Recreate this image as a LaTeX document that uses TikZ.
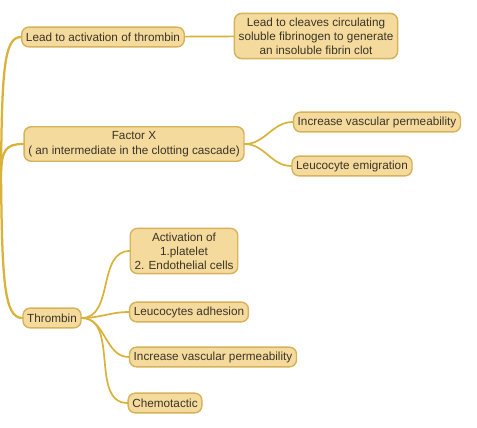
\documentclass[tikz,border=0pt]{standalone}
\usepackage{fontspec}
\setmainfont{Liberation Sans}
\definecolor{boxfill}{HTML}{F4DA9C}
\definecolor{boxline}{HTML}{D6B35A}
\definecolor{twig}{HTML}{D9B23A}
\definecolor{ink}{HTML}{3B3426}
\tikzset{
  topic/.style={draw=boxline, fill=boxfill, line width=1pt, rounded corners=5pt, text=ink,
    font=\fontsize{8.35}{10}\selectfont, align=center, inner xsep=3pt, inner ysep=3pt, minimum height=14pt},
  branch/.style={draw=twig, line width=1.2pt, line cap=round},
}
\begin{document}
\begin{tikzpicture}[x=0.025cm, y=-0.025cm]
\useasboundingbox[fill=white] (0,0) rectangle (477,427);
\clip (0,0) rectangle (477,427);
\coordinate (root) at (1,172);
\node[topic] (act) at (103,37) {Lead to activation of thrombin};
\node[topic] (clot) at (316,36) {Lead to cleaves circulating\\soluble fibrinogen to generate\\an insoluble fibrin clot};
\node[topic, font=\fontsize{8.35}{11}\selectfont] (fx) at (134,144) {Factor X\\( an intermediate in the clotting cascade)};
\node[topic] (fxperm) at (377,122) {Increase vascular permeability};
\node[topic] (fxemig) at (352,166) {Leucocyte emigration};
\node[topic] (thr) at (52,318) {Thrombin};
\node[topic] (thact) at (184,251) {Activation of\\1.platelet\\2. Endothelial cells};
\node[topic] (thadh) at (189,312) {Leucocytes adhesion};
\node[topic] (thperm) at (213,357) {Increase vascular permeability};
\node[topic] (thchem) at (165,403) {Chemotactic};
\draw[branch, line width=1.6pt] (root) .. controls (2,70) and (4,37) .. (act.west);
\draw[branch, line width=1.6pt] (root) .. controls (2,150) and (6,144) .. (fx.west);
\draw[branch, line width=1.6pt] (root) .. controls (2,280) and (4,318) .. (thr.west);
\draw[branch] (act) -- (clot);
\draw[branch] (fx.east) to[out=0, in=180] (fxperm.west);
\draw[branch] (fx.east) to[out=0, in=180] (fxemig.west);
\draw[branch] (thr.east) to[out=0, in=180] (thact.west);
\draw[branch] (thr.east) to[out=0, in=180] (thadh.west);
\draw[branch] (thr.east) to[out=0, in=180] (thperm.west);
\draw[branch] (thr.east) to[out=0, in=180] (thchem.west);
\end{tikzpicture}
\end{document}
